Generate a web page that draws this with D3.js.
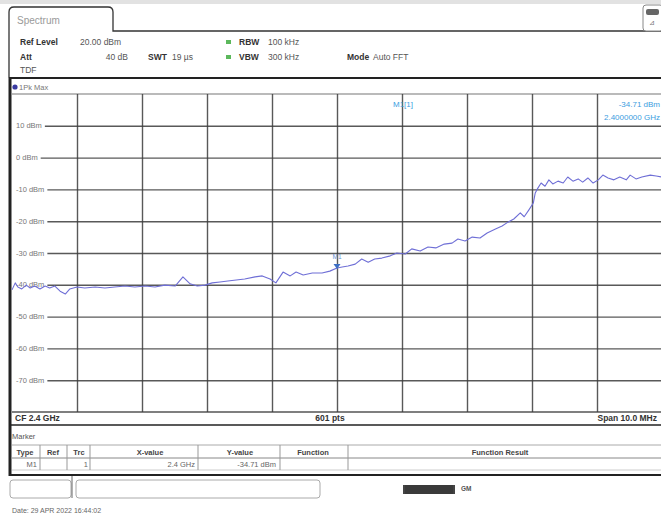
<!DOCTYPE html>
<html><head><meta charset="utf-8">
<script src="https://cdn.jsdelivr.net/npm/d3@7"></script>
<style>html,body{margin:0;padding:0;background:#fff;overflow:hidden}svg{display:block}</style>
</head><body>
<script>
// Frequency offset from centre frequency (MHz) and level (dBm) of the 1Pk Max trace
const freqMHz = [-5.00,-4.95,-4.91,-4.85,-4.78,-4.72,-4.65,-4.57,-4.49,-4.42,-4.34,-4.26,-4.18,-4.11,-4.00,-3.88,-3.72,-3.57,-3.42,-3.26,-3.11,-2.95,-2.80,-2.65,-2.49,-2.37,-2.26,-2.15,-2.03,-1.92,-1.80,-1.68,-1.55,-1.42,-1.26,-1.15,-1.03,-0.94,-0.83,-0.72,-0.63,-0.52,-0.38,-0.23,-0.11,0.00,0.08,0.17,0.28,0.38,0.48,0.58,0.69,0.82,0.92,1.05,1.15,1.28,1.40,1.52,1.65,1.77,1.86,1.97,2.08,2.20,2.31,2.43,2.54,2.63,2.72,2.82,2.88,2.95,3.02,3.05,3.09,3.14,3.20,3.26,3.32,3.40,3.48,3.55,3.63,3.71,3.78,3.86,3.94,4.02,4.09,4.17,4.26,4.35,4.45,4.51,4.60,4.69,4.82,4.91,5.00];
const levelDbm = [-41.6,-39.4,-40.7,-41.3,-40.1,-41.0,-40.4,-41.3,-40.4,-41.0,-40.4,-42.0,-42.9,-41.3,-40.7,-41.0,-40.7,-41.0,-40.7,-40.4,-40.7,-40.4,-40.7,-40.1,-40.4,-37.5,-39.7,-40.4,-40.1,-39.4,-39.1,-38.8,-38.5,-38.2,-37.5,-37.2,-38.2,-39.4,-36.0,-37.2,-36.0,-36.9,-36.3,-36.3,-35.7,-34.7,-34.4,-34.1,-33.5,-31.9,-32.9,-31.9,-31.6,-30.9,-30.0,-30.3,-28.7,-29.4,-28.1,-28.4,-27.2,-26.9,-25.6,-26.2,-25.0,-25.3,-23.7,-22.5,-21.5,-20.3,-19.3,-17.4,-18.6,-16.5,-14.3,-11.1,-9.6,-8.0,-9.0,-7.0,-8.3,-7.4,-8.0,-6.1,-7.4,-6.7,-7.7,-6.4,-8.0,-7.0,-5.5,-6.4,-7.0,-6.1,-7.0,-5.5,-6.7,-6.1,-5.5,-5.8,-6.1];
const yTicks = [10,0,-10,-20,-30,-40,-50,-60,-70];
const yTickLabels = ["10 dBm","0 dBm","-10 dBm","-20 dBm","-30 dBm","-40 dBm","-50 dBm","-60 dBm","-70 dBm"];
const xTicks = [-4,-3,-2,-1,0,1,2,3,4];
const marker = {name:"M1", freq:0.00, level:-34.71};
const tableHeaders = ["Type","Ref","Trc","X-value","Y-value","Function","Function Result"];
const tableRow = ["M1","","1","2.4 GHz","-34.71 dBm","",""];

const W=661,H=528;
const svg=d3.select("body").append("svg").attr("width",W).attr("height",H);
const FONT="'Liberation Sans', Arial, sans-serif";
const txt=(x,y,s,o={})=>svg.append("text").attr("x",x).attr("y",y).attr("dy","0.35em")
  .attr("font-family",FONT).attr("font-size",o.size||8.5).attr("font-weight",o.bold?"bold":"normal")
  .attr("fill",o.color||"#555").attr("text-anchor",o.anchor||"start").text(s);

// top grey strip
svg.append("rect").attr("x",0).attr("y",0).attr("width",W).attr("height",4).attr("fill","#e2e2e2");
// tab
svg.append("path").attr("d","M9,78 L9,12 Q9,7 14,7 L108,7 Q113,7 113,12 L113,31 L661,31")
  .attr("fill","none").attr("stroke","#333").attr("stroke-width",1.3);
txt(17,20,"Spectrum",{size:10,color:"#9a9a9a"});
// top-right icon
svg.append("rect").attr("x",643).attr("y",5).attr("width",20).attr("height",26).attr("rx",3)
  .attr("fill","#fff").attr("stroke","#888");
svg.append("rect").attr("x",646).attr("y",9).attr("width",13).attr("height",6).attr("rx",2).attr("fill","#666");
txt(652,23,"⊿",{size:7,color:"#777",anchor:"middle"});

// header
txt(20,42,"Ref Level",{bold:true,color:"#333"});
txt(80,42,"20.00 dBm");
txt(20,57,"Att",{bold:true,color:"#333"});
txt(128,57,"40 dB",{anchor:"end"});
txt(148,57,"SWT",{bold:true,color:"#333"});
txt(172,57,"19 µs");
svg.append("rect").attr("x",226).attr("y",40).attr("width",5).attr("height",4).attr("fill","#5cb85c");
svg.append("rect").attr("x",226).attr("y",55).attr("width",5).attr("height",4).attr("fill","#5cb85c");
txt(239,42,"RBW",{bold:true,color:"#333"});
txt(268,42,"100 kHz");
txt(239,57,"VBW",{bold:true,color:"#333"});
txt(268,57,"300 kHz");
txt(347,57,"Mode",{bold:true,color:"#333"});
txt(373,57,"Auto FFT");
txt(20,70,"TDF");

// frame
svg.append("line").attr("x1",9).attr("x2",W).attr("y1",78).attr("y2",78).attr("stroke","#222").attr("stroke-width",2);
svg.append("line").attr("x1",10).attr("x2",10).attr("y1",78).attr("y2",476).attr("stroke","#222").attr("stroke-width",3);
svg.append("circle").attr("cx",15).attr("cy",87).attr("r",2.6).attr("fill","#3a3aa0");
txt(19,87,"1Pk Max",{size:7.5,color:"#777"});

// scales
const x=d3.scaleLinear().domain([-5,5]).range([12,662]);
const y=d3.scaleLinear().domain([-80,20]).range([412,94]);

// plot border
svg.append("line").attr("x1",12).attr("x2",W).attr("y1",94).attr("y2",94).attr("stroke","#777").attr("stroke-width",1.2);
svg.append("line").attr("x1",12).attr("x2",W).attr("y1",412).attr("y2",412).attr("stroke","#555").attr("stroke-width",1.5);

// grid via axes
const gx=svg.append("g").attr("transform",`translate(0,${y(-80)})`)
  .call(d3.axisBottom(x).tickValues(xTicks).tickSize(-(y(-80)-y(20))).tickFormat(""));
const gy=svg.append("g").attr("transform",`translate(${x(-5)},0)`)
  .call(d3.axisLeft(y).tickValues(yTicks).tickSize(-(x(5)-x(-5))).tickFormat(""));
[gx,gy].forEach(g=>{g.select(".domain").remove();
  g.selectAll(".tick line").attr("stroke","#3c3c3c").attr("stroke-width",1.4).attr("opacity",0.85);});

// y labels with white background
yTicks.forEach((v,i)=>{
  const t=txt(16,y(v),yTickLabels[i],{size:7.5,color:"#777"});
  const bb=t.node().getBBox();
  svg.insert("rect",()=>t.node()).attr("x",12).attr("y",bb.y).attr("width",bb.x+bb.width+3-12).attr("height",bb.height).attr("fill","#fff");
});

// trace
const pts=freqMHz.map((f,i)=>[f,levelDbm[i]]);
svg.append("path").datum(pts)
  .attr("d",d3.line().x(d=>x(d[0])).y(d=>y(d[1])))
  .attr("fill","none").attr("stroke","#6f6fd6").attr("stroke-width",1.1).attr("stroke-linejoin","round");

// marker
const mx=x(marker.freq),my=y(marker.level);
svg.append("path").attr("d",`M${mx-3.5},${my-4} L${mx+3.5},${my-4} L${mx},${my+1} Z`).attr("fill","#3d6fc4");
txt(mx,my-11,marker.name,{size:6.5,color:"#6a8fd0",anchor:"middle"});

// marker info
txt(393,104,"M1[1]",{size:8,color:"#3b9de0"});
txt(660,104,"-34.71 dBm",{size:8,color:"#3b9de0",anchor:"end"});
txt(660,117,"2.4000000 GHz",{size:8,color:"#3b9de0",anchor:"end"});

// bottom of diagram
svg.append("line").attr("x1",10).attr("x2",W).attr("y1",425).attr("y2",425).attr("stroke","#222").attr("stroke-width",1.6);
txt(15,418,"CF 2.4 GHz",{bold:true,color:"#333"});
txt(330,418,"601 pts",{bold:true,color:"#333",anchor:"middle"});
txt(657,418,"Span 10.0 MHz",{bold:true,color:"#333",anchor:"end"});

// Marker table
txt(12,436,"Marker",{size:7.5,color:"#555"});
svg.append("line").attr("x1",12).attr("x2",W).attr("y1",445).attr("y2",445).attr("stroke","#aaa");
svg.append("line").attr("x1",12).attr("x2",W).attr("y1",458).attr("y2",458).attr("stroke","#888");
svg.append("line").attr("x1",12).attr("x2",W).attr("y1",470).attr("y2",470).attr("stroke","#ccc");
svg.append("line").attr("x1",9).attr("x2",W).attr("y1",475).attr("y2",475).attr("stroke","#222").attr("stroke-width",2);
const seps=[40,67,90,198,280,348];
seps.forEach(s=>svg.append("line").attr("x1",s).attr("x2",s).attr("y1",445).attr("y2",470).attr("stroke","#999"));
const hdrX=[25,53,79,150,240,313,500];
tableHeaders.forEach((h,i)=>txt(hdrX[i],452,h,{size:7.5,bold:true,color:"#444",anchor:"middle"}));
txt(37,464,tableRow[0],{size:7.5,color:"#666",anchor:"end"});
txt(88,464,tableRow[2],{size:7.5,color:"#666",anchor:"end"});
txt(195,464,tableRow[3],{size:7.5,color:"#666",anchor:"end"});
txt(276,464,tableRow[4],{size:7.5,color:"#666",anchor:"end"});

// status bar
svg.append("rect").attr("x",10).attr("y",480).attr("width",61).attr("height",18).attr("rx",3).attr("fill","#fff").attr("stroke","#aaa");
svg.append("rect").attr("x",76).attr("y",480).attr("width",244).attr("height",18).attr("rx",3).attr("fill","#fff").attr("stroke","#aaa");
svg.append("line").attr("x1",72).attr("x2",72).attr("y1",476).attr("y2",498).attr("stroke","#666");
svg.append("rect").attr("x",403).attr("y",485).attr("width",52).attr("height",9).attr("fill","#444");
svg.append("rect").attr("x",405).attr("y",485).attr("width",48).attr("height",9).attr("fill","#3a3a3a");
txt(461,489,"GM",{size:6.5,bold:true,color:"#555"});

// date
txt(12,511,"Date: 29 APR 2022  16:44:02",{size:7,color:"#666"});
</script>
</body></html>
